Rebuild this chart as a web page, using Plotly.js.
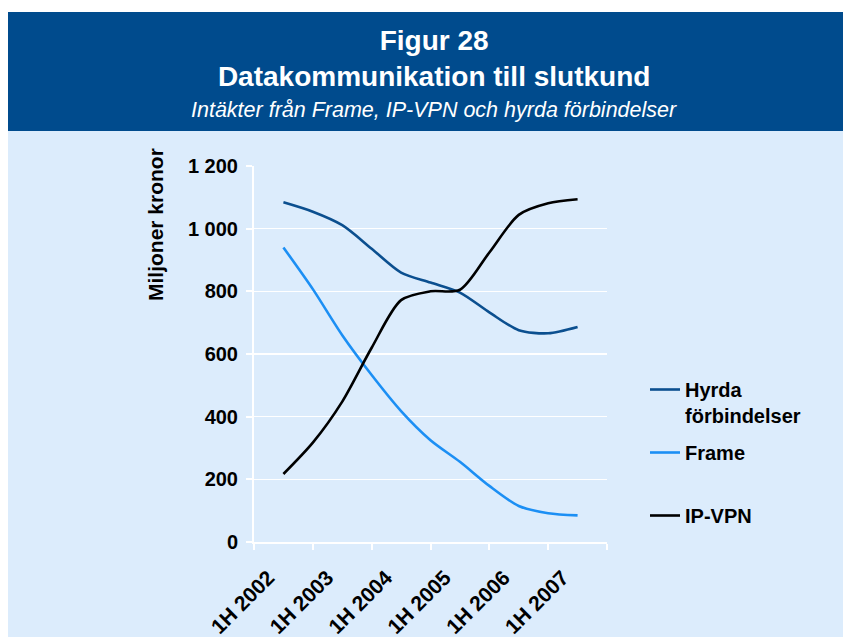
<!DOCTYPE html>
<html>
<head>
<meta charset="utf-8">
<script src="https://cdn.plot.ly/plotly-3.0.1.min.js"></script>
<style>html,body{margin:0;padding:0;background:#fff;}#chart{width:843px;height:637px;}</style>
</head>
<body>
<div id="chart"></div>
<script>
// Half-year periods
const periods = ['1H 2002','2H 2002','1H 2003','2H 2003','1H 2004','2H 2004','1H 2005','2H 2005','1H 2006','2H 2006','1H 2007'];
// Revenues, million SEK
const hyrda  = [1084, 1054, 1011, 936, 860, 828, 796, 733, 676, 666, 686];
const frame  = [940, 807, 660, 533, 418, 325, 256, 179, 115, 92, 85];
const ipvpn  = [217, 317, 448, 620, 772, 800, 805, 924, 1044, 1081, 1094];
const yTickVals = [0, 200, 400, 600, 800, 1000, 1200];
const yTickText = ['0', '200', '400', '600', '800', '1 000', '1 200'];
const seriesNames = ['Hyrda<br>förbindelser', 'Frame<br>\u00a0', 'IP-VPN'];

const xIdx = periods.map((_, i) => i);
const labelIdx = xIdx.filter(i => periods[i].startsWith('1H'));
const labelText = labelIdx.map(i => periods[i]);
const minorTicks = [];
for (let v = -1; v <= periods.length; v += 2) minorTicks.push(v);

const FONT = 'Liberation Sans, Arial, sans-serif';
const lineCommon = {shape: 'spline', smoothing: 0.8, width: 2.6};

const traces = [
  {x: xIdx, y: hyrda, name: seriesNames[0], legendgroup: 'g1', mode: 'lines', line: Object.assign({color: '#0b4f8f'}, lineCommon)},
  {x: xIdx, y: frame, name: seriesNames[1], legendgroup: 'g2', mode: 'lines', line: Object.assign({color: '#1c8ff4'}, lineCommon)},
  {x: xIdx, y: ipvpn, name: seriesNames[2], legendgroup: 'g3', mode: 'lines', line: Object.assign({color: '#000000'}, lineCommon)}
];

// plot area pixel geometry
const L = 254, R = 607, T = 166, B = 542, W = 843, H = 637;
const px = v => (v - L) / (R - L);
const py = v => (B - v) / (B - T);

const layout = {
  width: W, height: H,
  margin: {l: L, r: W - R, t: T, b: H - B},
  paper_bgcolor: '#ffffff',
  plot_bgcolor: 'rgba(0,0,0,0)',
  showlegend: true,
  font: {family: FONT, color: '#000'},
  title: {
    text: 'Figur 28<br>Datakommunikation till slutkund',
    font: {family: FONT, size: 28, color: '#ffffff', weight: 'bold'},
    x: 0.515, xanchor: 'center', xref: 'container',
    y: 1 - 50 / H, yanchor: 'top', yref: 'container'
  },
  xaxis: {
    range: [-1, periods.length],
    tickmode: 'array', tickvals: labelIdx, ticktext: labelText,
    tickangle: -45, ticks: '',
    ticklabelstandoff: 13, ticklabelshift: -15,
    tickfont: {family: FONT, size: 21, color: '#000', weight: 'bold'},
    showgrid: false, zeroline: false,
    showline: true, linecolor: '#ffffff', linewidth: 2,
    minor: {tickmode: 'array', tickvals: minorTicks, ticks: 'outside', ticklen: 6, tickwidth: 2, tickcolor: '#ffffff', showgrid: false},
    fixedrange: true
  },
  yaxis: {
    range: [0, 1200],
    tickmode: 'array', tickvals: yTickVals, ticktext: yTickText,
    ticks: 'outside', ticklen: 6, tickwidth: 2, tickcolor: '#ffffff',
    ticklabelstandoff: 4,
    tickfont: {family: FONT, size: 20, color: '#000', weight: 'bold'},
    showgrid: true, gridcolor: '#ffffff', gridwidth: 1.5,
    zeroline: false,
    showline: true, linecolor: '#ffffff', linewidth: 2,
    fixedrange: true
  },
  legend: {
    x: px(645), xanchor: 'left', y: py(370), yanchor: 'top',
    bgcolor: 'rgba(0,0,0,0)', borderwidth: 0,
    valign: 'top', traceorder: 'grouped', tracegroupgap: 8,
    font: {family: FONT, size: 20, color: '#000', weight: 'bold'}
  },
  annotations: [
    {text: 'Intäkter från Frame, IP-VPN och hyrda förbindelser', xref: 'paper', yref: 'paper',
     x: px(434), y: py(110), xanchor: 'center', yanchor: 'middle', showarrow: false,
     font: {family: FONT, size: 21.5, color: '#ffffff', style: 'italic'}},
    {text: 'Miljoner kronor', textangle: -90, xref: 'paper', yref: 'paper',
     x: px(155), y: py(225), xanchor: 'center', yanchor: 'middle', showarrow: false,
     font: {family: FONT, size: 21, color: '#000', weight: 'bold'}}
  ],
  shapes: [
    {type: 'rect', xref: 'paper', yref: 'paper', layer: 'below',
     x0: px(8), x1: px(843), y0: py(637), y1: py(131), fillcolor: '#dcecfc', line: {width: 0}},
    {type: 'rect', xref: 'paper', yref: 'paper', layer: 'below',
     x0: px(8), x1: px(843), y0: py(131), y1: py(12), fillcolor: '#004b8d', line: {width: 0}}
  ]
};

Plotly.newPlot('chart', traces, layout, {displayModeBar: false, staticPlot: true});
</script>
</body>
</html>
